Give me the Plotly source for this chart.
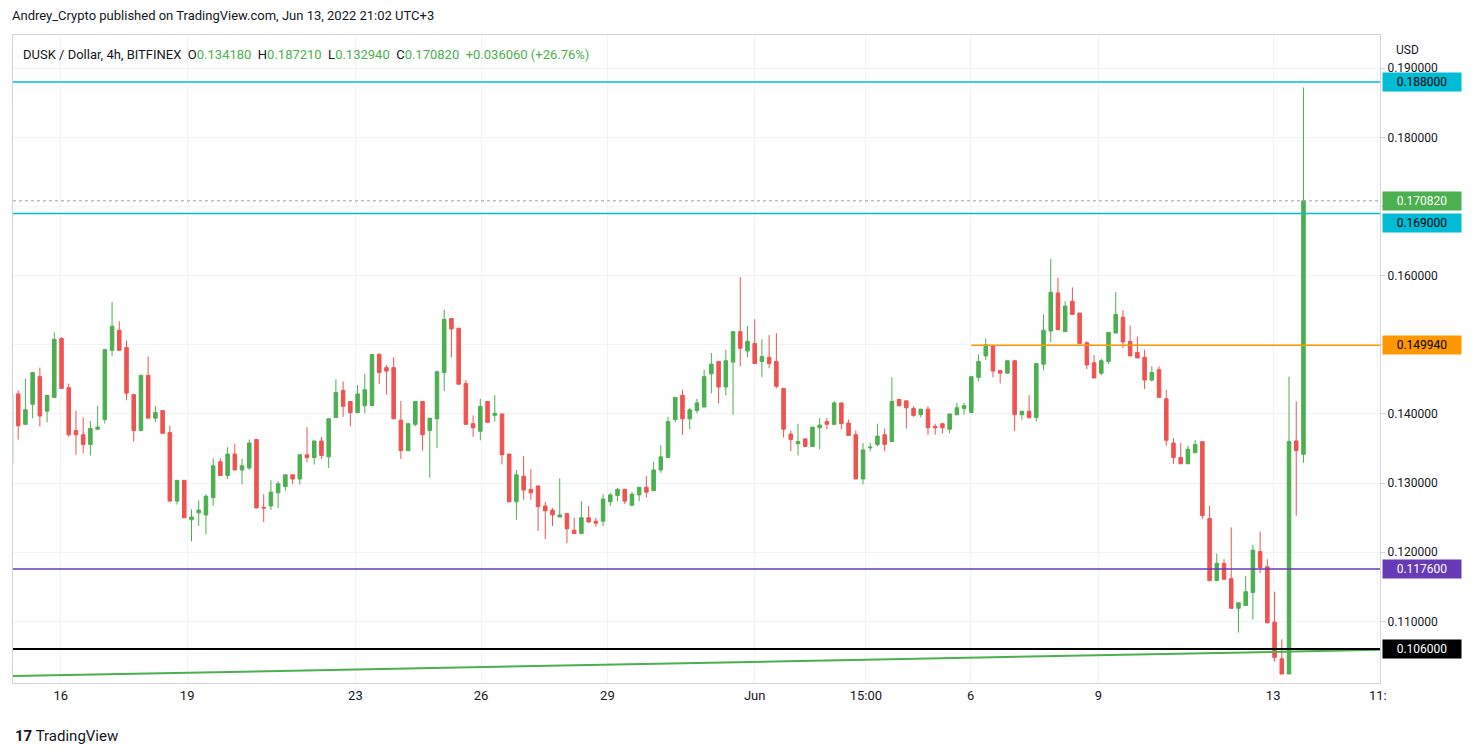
import plotly.graph_objects as go

# 4h candles, DUSK/USD Bitfinex
opens = [.1328, .1429, .1385, .1414, .1454, .1404, .1424, .1509, .1438, .1376,
         .1370, .1356, .1378, .1392, .1492, .1521, .1496, .1428, .1376, .1456,
         .1394, .1405, .1373, .1274, .1304, .1247, .1257, .1254, .1279, .1331,
         .1311, .1342, .1319, .1322, .1363, .1265, .1267, .1286, .1295, .1312,
         .1306, .1341, .1337, .1361, .1338, .1395, .1434, .1418, .1402, .1412,
         .1412, .1486, .1467, .1467, .1391, .1347, .1385, .1418, .1376, .1393,
         .1460, .1538, .1524, .1444, .1386, .1375, .1418, .1398, .1400, .1342,
         .1273, .1310, .1291, .1296, .1267, .1261, .1251, .1256, .1232, .1227,
         .1250, .1245, .1245, .1273, .1282, .1291, .1268, .1283, .1294, .1289,
         .1319, .1337, .1392, .1427, .1393, .1405, .1410, .1458, .1476, .1439,
         .1475, .1519, .1491, .1502, .1476, .1482, .1476, .1437, .1371, .1357,
         .1364, .1353, .1380, .1389, .1385, .1416, .1387, .1370, .1306, .1351,
         .1356, .1370, .1360, .1421, .1419, .1408, .1399, .1407, .1382, .1386,
         .1378, .1399, .1408, .1402, .1453, .1484, .1499, .1463, .1459, .1477,
         .1399, .1404, .1395, .1472, .1520, .1575, .1519, .1563, .1546, .1503,
         .1474, .1459, .1476, .1517, .1540, .1505, .1489, .1482, .1449, .1464,
         .1422, .1358, .1337, .1328, .1344, .1360, .1249, .1159, .1184, .1162,
         .1119, .1123, .1142, .1201, .1179, .1099, .1046, .1024, .1361, .13418]
highs = [.1429, .1434, .1451, .1460, .1467, .1427, .1518, .1511, .1444, .1405,
         .1395, .1390, .1412, .1493, .1562, .1534, .1506, .1428, .1456, .1483,
         .1411, .1406, .1383, .1304, .1304, .1262, .1275, .1284, .1336, .1336,
         .1352, .1357, .1335, .1363, .1364, .1284, .1304, .1303, .1312, .1312,
         .1341, .1381, .1361, .1367, .1393, .1450, .1447, .1418, .1442, .1458,
         .1486, .1488, .1471, .1482, .1419, .1386, .1418, .1418, .1394, .1463,
         .1551, .1538, .1524, .1449, .1398, .1422, .1418, .1427, .1400, .1342,
         .1319, .1339, .1320, .1296, .1273, .1264, .1307, .1256, .1250, .1274,
         .1267, .1250, .1284, .1286, .1293, .1292, .1287, .1294, .1310, .1331,
         .1355, .1396, .1424, .1435, .1409, .1422, .1464, .1488, .1476, .1493,
         .1519, .1598, .1527, .1537, .1508, .1514, .1517, .1437, .1376, .1386,
         .1365, .1381, .1394, .1394, .1419, .1416, .1392, .1376, .1358, .1358,
         .1386, .1379, .1453, .1421, .1419, .1411, .1407, .1411, .1386, .1386,
         .1400, .1416, .1416, .1454, .1486, .1509, .1500, .1463, .1477, .1477,
         .1404, .1427, .1473, .1544, .1624, .1597, .1563, .1583, .1546, .1505,
         .1485, .1480, .1518, .1576, .1550, .1528, .1512, .1493, .1469, .1469,
         .1435, .1365, .1358, .1354, .1362, .1360, .1267, .1198, .1190, .1236,
         .1127, .1166, .1211, .1230, .1190, .1143, .1074, .1454, .1418, .18721]
lows = [.1328, .1363, .1385, .1394, .1382, .1388, .1424, .1437, .1367, .1341,
        .1343, .1340, .1378, .1386, .1484, .1492, .1420, .1360, .1376, .1394,
        .1388, .1372, .1274, .1269, .1250, .1216, .1238, .1226, .1267, .1311,
        .1306, .1319, .1298, .1319, .1264, .1244, .1261, .1264, .1289, .1299,
        .1298, .1330, .1327, .1335, .1322, .1395, .1396, .1382, .1401, .1401,
        .1412, .1443, .1428, .1393, .1335, .1347, .1382, .1347, .1308, .1351,
        .1433, .1482, .1443, .1385, .1367, .1362, .1388, .1389, .1327, .1273,
        .1247, .1276, .1276, .1231, .1219, .1238, .1251, .1213, .1227, .1227,
        .1242, .1237, .1238, .1267, .1274, .1270, .1268, .1274, .1279, .1289,
        .1315, .1337, .1388, .1370, .1378, .1401, .1410, .1430, .1415, .1427,
        .1399, .1469, .1482, .1472, .1453, .1466, .1437, .1366, .1346, .1340,
        .1353, .1353, .1349, .1378, .1385, .1378, .1369, .1306, .1298, .1346,
        .1353, .1346, .1360, .1411, .1379, .1396, .1395, .1370, .1370, .1372,
        .1372, .1398, .1399, .1402, .1447, .1478, .1453, .1444, .1459, .1375,
        .1392, .1393, .1389, .1463, .1504, .1521, .1519, .1544, .1502, .1465,
        .1452, .1456, .1472, .1517, .1495, .1484, .1481, .1436, .1447, .1423,
        .1354, .1328, .1328, .1328, .1344, .1248, .1159, .1159, .1161, .1119,
        .1084, .1123, .1103, .1170, .1098, .1042, .1024, .1024, .1253, .13294]
closes = [.1429, .1383, .1406, .1460, .1397, .1427, .1508, .1437, .1370, .1370,
          .1356, .1379, .1381, .1493, .1527, .1492, .1430, .1376, .1456, .1394,
          .1402, .1372, .1274, .1304, .1250, .1251, .1261, .1281, .1325, .1311,
          .1342, .1319, .1325, .1358, .1264, .1264, .1287, .1299, .1312, .1306,
          .1341, .1337, .1361, .1340, .1393, .1431, .1411, .1402, .1429, .1435,
          .1486, .1460, .1462, .1393, .1347, .1386, .1418, .1370, .1394, .1461,
          .1537, .1523, .1443, .1385, .1380, .1411, .1388, .1401, .1341, .1273,
          .1312, .1290, .1286, .1266, .1260, .1254, .1254, .1234, .1227, .1250,
          .1244, .1242, .1277, .1283, .1291, .1274, .1284, .1294, .1287, .1319,
          .1338, .1389, .1424, .1393, .1406, .1416, .1454, .1472, .1439, .1477,
          .1519, .1495, .1505, .1473, .1483, .1473, .1440, .1378, .1363, .1360,
          .1353, .1381, .1384, .1385, .1416, .1386, .1369, .1306, .1348, .1352,
          .1368, .1356, .1418, .1412, .1409, .1398, .1407, .1380, .1380, .1380,
          .1400, .1409, .1412, .1454, .1476, .1500, .1462, .1459, .1477, .1399,
          .1404, .1395, .1473, .1521, .1576, .1522, .1556, .1544, .1502, .1471,
          .1452, .1477, .1518, .1544, .1504, .1484, .1481, .1449, .1460, .1424,
          .1362, .1337, .1328, .1349, .1356, .1253, .1159, .1184, .1161, .1119,
          .1127, .1143, .1203, .1178, .1098, .1048, .1024, .1360, .1347, .17082]

tick_pos = [6.9, 24.4, 47.7, 65.1, 82.6, 103.0, 118.4, 132.9, 150.6, 174.8, 189.3]
tick_text = ["16", "19", "23", "26", "29", "Jun", "15:00", "6", "9", "13", "11:"]
price_ticks = [0.11, 0.12, 0.13, 0.14, 0.15, 0.16, 0.17, 0.18, 0.19]
price_tick_text = ["0.110000", "0.120000", "0.130000", "0.140000", "",
                   "0.160000", "", "0.180000", "0.190000"]

levels = [0.188, 0.169, 0.14994, 0.1176, 0.106]
level_colors = ["#00bcd4", "#00bcd4", "#ff9800", "#673ab7", "#000000"]
level_text_colors = ["#000000", "#000000", "#000000", "#ffffff", "#ffffff"]
level_label_shift = [0, -10, 0, 0, 0]
orange_start = 133
trend_y = [0.1021, 0.1059]

idx = list(range(len(closes)))
X_MIN, X_MAX = 0.28, 189.6

fig = go.Figure()
fig.add_trace(go.Candlestick(
    x=idx, open=opens, high=highs, low=lows, close=closes,
    increasing=dict(line=dict(color="#4caf50", width=1), fillcolor="#4caf50"),
    decreasing=dict(line=dict(color="#ef5350", width=1), fillcolor="#ef5350"),
    whiskerwidth=0, showlegend=False, hoverinfo="skip"))

# trend line
fig.add_trace(go.Scatter(x=[X_MIN, X_MAX], y=trend_y, mode="lines",
                         line=dict(color="#4caf50", width=2), showlegend=False))

for lv, col in zip(levels, level_colors):
    x0 = orange_start if lv == 0.14994 else X_MIN
    w = 2 if col == "#000000" else 1.5
    fig.add_shape(type="line", x0=x0, x1=X_MAX, y0=lv, y1=lv,
                  line=dict(color=col, width=w))
# last price dotted line
fig.add_shape(type="line", x0=X_MIN, x1=X_MAX, y0=closes[-1], y1=closes[-1],
              line=dict(color="#9e9e9e", width=1, dash="dot"))

labels = list(zip(levels, level_colors, level_text_colors, level_label_shift))
labels.append((closes[-1], "#4caf50", "#ffffff", 0))
for lv, col, tc, sh in labels:
    fig.add_annotation(x=1, xref="paper", y=lv, yref="y", xanchor="left",
                       xshift=2, yshift=sh, text="%.6f" % lv, showarrow=False,
                       bgcolor=col, font=dict(color=tc, size=12, family="Roboto"),
                       borderpad=2, width=74)

fig.add_annotation(x=0, xref="paper", y=1, yref="paper", xanchor="left",
                   yanchor="top", yshift=-10, xshift=8, showarrow=False,
                   text=("DUSK / Dollar, 4h, BITFINEX  O<span style='color:#4caf50'>0.134180</span>"
                         "  H<span style='color:#4caf50'>0.187210</span>"
                         "  L<span style='color:#4caf50'>0.132940</span>"
                         "  C<span style='color:#4caf50'>0.170820</span>"
                         "  <span style='color:#4caf50'>+0.036060 (+26.76%)</span>"),
                   font=dict(size=13, color="#131722", family="Roboto"))
fig.add_annotation(x=0, xref="paper", y=1, yref="paper", xanchor="left",
                   yanchor="bottom", yshift=10, xshift=-3, showarrow=False,
                   text="Andrey_Crypto published on TradingView.com, Jun 13, 2022 21:02 UTC+3",
                   font=dict(size=13, color="#131722", family="Roboto"))
fig.add_annotation(x=1, xref="paper", y=1, yref="paper", xanchor="left",
                   yanchor="top", xshift=14, yshift=-6, showarrow=False,
                   text="USD", font=dict(size=12, color="#131722", family="Roboto"))
fig.add_annotation(x=0, xref="paper", y=0, yref="paper", xanchor="left",
                   yanchor="top", yshift=-42, showarrow=False,
                   text="<b>17</b> TradingView",
                   font=dict(size=15, color="#131722", family="Roboto"))

# page has an 8px body margin, so the figure is shrunk to fit the window
fig.update_layout(
    width=1465, height=740, plot_bgcolor="white", paper_bgcolor="white",
    margin=dict(l=5, r=93, t=27, b=65, autoexpand=False),
    xaxis=dict(range=[X_MIN, X_MAX], tickvals=tick_pos, ticktext=tick_text,
               showgrid=True, gridcolor="#f0f3fa", rangeslider=dict(visible=False),
               showline=True, linecolor="#d1d4dc", mirror=True, ticks="",
               tickfont=dict(size=13, color="#131722", family="Roboto"), zeroline=False),
    yaxis=dict(range=[0.1011, 0.1948], side="right", tickvals=price_ticks,
               ticktext=price_tick_text,
               showgrid=True, gridcolor="#f0f3fa", showline=True, linecolor="#d1d4dc",
               mirror=True, ticks="outside", ticklen=4, tickcolor="#d1d4dc",
               tickfont=dict(size=12, color="#131722", family="Roboto"), zeroline=False),
)

fig.write_html("out.html")
